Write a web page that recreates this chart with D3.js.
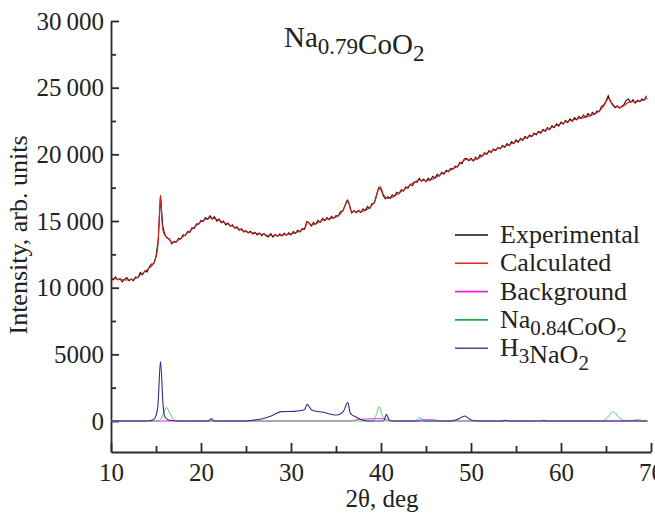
<!DOCTYPE html>
<html>
<head>
<meta charset="utf-8">
<script src="https://cdn.jsdelivr.net/npm/d3@7"></script>
<style>
  body { margin: 0; background: #fff; }
  svg text { font-family: "Liberation Serif", "Tinos", "Times New Roman", "DejaVu Serif", serif; fill: #222; }
</style>
</head>
<body>
<div id="xrd-chart"></div>
<script>
// 2theta grid for the measured pattern (0.25 deg step)
const expStart = 10, expStep = 0.25;
// Experimental intensity
const experimental = [
  10785, 10580, 10800, 10585, 10690, 10430, 10615, 10758, 10520, 10650, 10530, 10805, 10750, 11140, 10970, 11250, 11170, 11550, 11770, 11800,
  12350, 13600, 16900, 14600, 13950, 13700, 13650, 13300, 13480, 13420, 13700, 13640, 13950, 13900, 14200, 14150, 14480, 14450, 14780, 14760,
  15050, 14980, 15250, 15120, 15400, 15150, 15330, 15000, 15150, 14880, 15000, 14700, 14850, 14600, 14720, 14450, 14560, 14300, 14420, 14180,
  14280, 14100, 14230, 14020, 14150, 13950, 14100, 13900, 14060, 13880, 13820, 14050, 13800, 13990, 13850, 14020, 13880, 14080, 13930, 14120,
  13960, 14200, 14060, 14300, 14180, 14420, 14380, 14950, 14850, 14620, 14900, 14760, 15050, 14900, 15200, 15020, 15250, 15100, 15350, 15200,
  15400, 15380, 15700, 15750, 16150, 16550, 16200, 15600, 15780, 15620, 15800, 15650, 15900, 15800, 16080, 15950, 16300, 16350, 16950, 17500,
  17350, 16900, 16650, 16820, 16700, 16950, 16880, 17150, 17050, 17350, 17250, 17550, 17450, 17750, 17650, 17950, 17900, 18200, 17980, 18150,
  17950, 18200, 18080, 18350, 18220, 18500, 18380, 18650, 18520, 18800, 18700, 18950, 18880, 19120, 19050, 19380, 19300, 19650, 19700, 19520,
  19700, 19500, 19780, 19650, 19950, 19850, 20120, 20000, 20280, 20150, 20400, 20280, 20520, 20400, 20680, 20520, 20800, 20650, 20950, 20800,
  21080, 20900, 21200, 21050, 21350, 21200, 21450, 21320, 21600, 21450, 21720, 21580, 21880, 21720, 22000, 21850, 22150, 22000, 22280, 22120,
  22420, 22260, 22550, 22380, 22650, 22480, 22750, 22580, 22850, 22700, 22950, 22780, 23050, 22880, 23150, 23000, 23250, 23200, 23600, 23700,
  24000, 24400, 23950, 23750, 23500, 23650, 23450, 23600, 23750, 24050, 24150, 23900, 24100, 23850, 24050, 23950, 24150, 24050, 24400
];

// Calculated profile [2theta, intensity]
const calculated = [
  [10, 10725], [10.5, 10650], [11, 10600], [11.9, 10575], [12.8, 10700], [13.6, 11125], [14.2, 11450],
  [14.7, 11775], [15, 12300], [15.2, 13075], [15.35, 15000], [15.5, 16950], [15.65, 15075], [15.85, 14100],
  [16.3, 13725], [16.9, 13375], [17.8, 13725], [18.9, 14325], [20, 14950], [21.1, 15225], [22.6, 14875],
  [24.3, 14375], [25, 14200], [26.2, 14075], [28, 13900], [29.9, 14025], [31.2, 14325], [31.6, 14525],
  [31.8, 14950], [32.3, 14700], [33.6, 15075], [35.1, 15325], [35.8, 15825], [36.3, 16575], [36.7, 15700],
  [37.7, 15700], [38.8, 16050], [39.3, 16450], [39.9, 17575], [40.3, 16950], [40.8, 16700], [42.5, 17325],
  [44.3, 18075], [45.1, 18025], [46.9, 18575], [48.4, 19075], [49.5, 19625], [50.3, 19575], [51.7, 20075],
  [53.6, 20575], [56.9, 21450], [60.6, 22450], [64, 23125], [64.7, 23575], [65.3, 24200], [65.8, 23625],
  [66.6, 23525], [67.7, 23950], [68.4, 23950], [69.6, 24200]
];

// Background [2theta, intensity]
const background = [
  [10, 0], [36.8, 0], [37.5, 120], [38.5, 150], [39.5, 180], [40.5, 150], [41, 0],
  [44, 0], [44.5, 100], [46, 80], [46.5, 0], [69.6, 0]
];

// Na0.84CoO2 phase contribution
const naCoO2 = [
  [10, 0], [15.2, 0], [15.6, 200], [15.9, 700], [16.15, 1025], [16.5, 650], [16.9, 150], [17.3, 0],
  [39.1, 0], [39.5, 500], [39.8, 1075], [40.1, 500], [40.5, 0], [43.8, 0], [44.3, 275], [44.8, 0],
  [64.6, 0], [65.2, 300], [65.8, 700], [66.4, 300], [67, 50], [68, 50], [68.5, 120], [69, 30], [69.6, 0]
];

// H3NaO2 phase contribution
const h3NaO2 = [
  [10, 0], [14, 0], [14.6, 80], [14.9, 250], [15.2, 1075], [15.5, 4450], [15.8, 1075], [16, 300],
  [16.5, 60], [17.5, 0], [20.8, 0], [21.15, 160], [21.5, 0], [24.5, 0], [25.5, 40], [26.7, 150],
  [27.8, 375], [28.9, 700], [30.4, 725], [31.5, 850], [31.8, 1250], [32.3, 825], [33.6, 650], [35.1, 450],
  [35.8, 700], [36.3, 1375], [36.6, 575], [37.3, 275], [38, 50], [38.5, 0], [40.3, 0], [40.6, 500],
  [40.9, 100], [41.3, 0], [47.8, 0], [48.6, 150], [49.3, 380], [49.9, 120], [50.6, 0], [53.5, 0],
  [53.8, 60], [54.1, 0], [57.8, 0], [58.1, 50], [58.4, 0], [69.6, 0]
];

const xTicks = [10, 20, 30, 40, 50, 60, 70];
const xMinorTicks = [15, 25, 35, 45, 55, 65];
const yTicks = [0, 5000, 10000, 15000, 20000, 25000, 30000];
const yMinorTicks = [2500, 7500, 12500, 17500, 22500, 27500];

const legendNames = ["Experimental", "Calculated", "Background", "Na0.84CoO2", "H3NaO2"];
const legendColors = ["#111111", "#e3201b", "#ee22ee", "#1fa84c", "#4a4a9e"];

var width = 655, height = 516;

var svg = d3.select("#xrd-chart")
    .append("svg")
    .attr("width", width)
    .attr("height", height);

// scales
var x = d3.scaleLinear().domain([10, 70]).range([111, 651]);
var y = d3.scaleLinear().domain([-2325, 30000]).range([452, 21]);

// thousands split by a thin space, as in the figure
var fmt = (d) => d >= 10000 ? String(d).replace(/(\d{3})$/, "\u2009$1") : String(d);

// y axis (ticks point inward)
svg.append("g")
    .attr("transform", "translate(" + x(10) + ",0)")
    .call(d3.axisLeft(y).tickValues(yTicks).tickSizeInner(-8).tickSizeOuter(0).tickPadding(7).tickFormat(fmt));
svg.append("g")
    .attr("transform", "translate(" + x(10) + ",0)")
    .call(d3.axisLeft(y).tickValues(yMinorTicks).tickSizeInner(-5).tickSizeOuter(0).tickFormat(""))
    .select(".domain").remove();

// x axis
svg.append("g")
    .attr("transform", "translate(0," + y(-2325) + ")")
    .call(d3.axisBottom(x).tickValues(xTicks).tickSizeInner(-9).tickSizeOuter(0).tickPadding(11));
svg.append("g")
    .attr("transform", "translate(0," + y(-2325) + ")")
    .call(d3.axisBottom(x).tickValues(xMinorTicks).tickSizeInner(-6).tickSizeOuter(0).tickFormat(""))
    .select(".domain").remove();

svg.selectAll("g").attr("font-family", null);
svg.selectAll(".domain, .tick line")
    .attr("stroke", "#2a2a2a")
    .attr("stroke-width", 1.8);
svg.selectAll(".tick text")
    .attr("fill", "#222")
    .style("font-size", "25px");

// lines
var line = d3.line()
    .x((d) => x(d[0]))
    .y((d) => y(d[1]))
    .curve(d3.curveMonotoneX);

var expLine = d3.line()
    .x((d, i) => x(expStart + i * expStep))
    .y((d) => y(d));

svg.append("path").datum(background)
    .attr("d", line).attr("fill", "none").attr("stroke", legendColors[2]).attr("stroke-width", 1);
svg.append("path").datum(naCoO2)
    .attr("d", line).attr("fill", "none").attr("stroke", "#5cc46a").attr("stroke-width", 1);
svg.append("path").datum(h3NaO2)
    .attr("d", line).attr("fill", "none").attr("stroke", "#2e2f82").attr("stroke-width", 1.1);
svg.append("path").datum(experimental)
    .attr("d", expLine).attr("fill", "none").attr("stroke", "#111").attr("stroke-width", 1.1);
svg.append("path").datum(calculated)
    .attr("d", line).attr("fill", "none").attr("stroke", "#e3201b").attr("stroke-width", 1.1);

// helper for chemical formulas with subscripts
function formula(sel, parts, subSize, shift) {
    parts.forEach((p) => {
        if (p.sub) {
            sel.append("tspan").attr("dy", shift).style("font-size", subSize + "px").text(p.t);
            sel.append("tspan").attr("dy", -shift).text("");
        } else {
            sel.append("tspan").text(p.t);
        }
    });
}

var subs = {
    "Na0.84CoO2": [{t: "Na"}, {t: "0.84", sub: true}, {t: "CoO"}, {t: "2", sub: true}],
    "H3NaO2": [{t: "H"}, {t: "3", sub: true}, {t: "NaO"}, {t: "2", sub: true}]
};

// title
var title = svg.append("text")
    .attr("x", 284).attr("y", 47)
    .style("font-size", "29px");
formula(title, [{t: "Na"}, {t: "0.79", sub: true}, {t: "CoO"}, {t: "2", sub: true}], 23, 7);

// legend
var legend = svg.append("g");
legendNames.forEach((name, i) => {
    var by = 243 + i * 28.3;
    legend.append("line")
        .attr("x1", 455).attr("x2", 488)
        .attr("y1", by - 8).attr("y2", by - 8)
        .attr("stroke", legendColors[i]).attr("stroke-width", 1.6);
    var t = legend.append("text").attr("x", 500).attr("y", by).style("font-size", "26px");
    if (subs[name]) formula(t, subs[name], 21, 7);
    else t.text(name);
});

// axis titles
svg.append("text")
    .attr("x", 382).attr("y", 507)
    .attr("text-anchor", "middle")
    .style("font-size", "25px")
    .text("2\u03b8, deg");

svg.append("text")
    .attr("transform", "rotate(-90)")
    .attr("x", -235).attr("y", 27)
    .attr("text-anchor", "middle")
    .style("font-size", "26px")
    .text("Intensity, arb. units");
</script>
</body>
</html>
